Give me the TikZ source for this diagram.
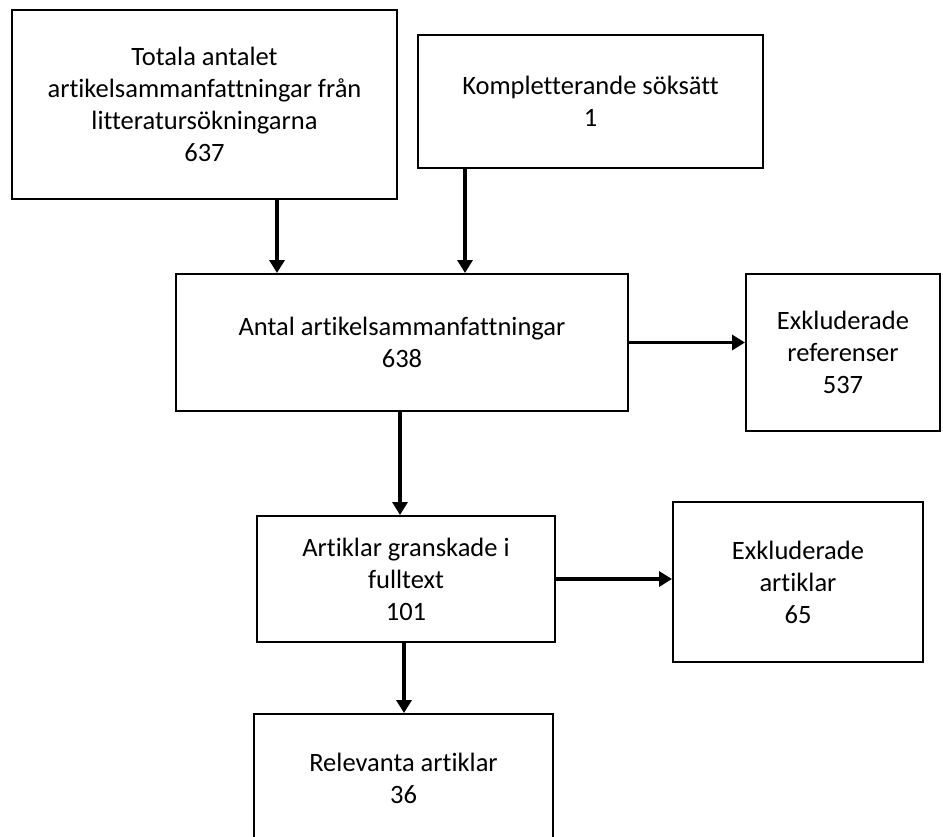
\documentclass[tikz,border=0pt]{standalone}
\usepackage{fontspec}
\setmainfont{Carlito}[Ligatures={NoCommon}]
\usetikzlibrary{arrows.meta}
\begin{document}
\begin{tikzpicture}[x=1pt,y=-1pt,
  box/.style={draw=black,line width=2pt,align=center,inner sep=0pt,
    font=\fontsize{26.5}{32}\selectfont,text=black},
  arr/.style={line width=3.5pt,-{Triangle[length=13pt,width=15pt]}}]
\useasboundingbox (0,0) rectangle (943,836);
\clip (0,0) rectangle (943,836);
\node[box,minimum width=385pt,minimum height=189pt] (b1) at (204.5,104.5)
  {Totala antalet\\artikelsammanfattningar från\\litteratursökningarna\\637};
\node[box,minimum width=345pt,minimum height=133pt] (b2) at (590.5,101.5)
  {Kompletterande söksätt\\1};
\node[box,minimum width=452pt,minimum height=137pt] (b3) at (402,342.5)
  {Antal artikelsammanfattningar\\638};
\node[box,minimum width=194pt,minimum height=157pt] (b4) at (843,352.5)
  {Exkluderade\\referenser\\537};
\node[box,minimum width=298pt,minimum height=126pt] (b5) at (406,579)
  {Artiklar granskade i\\fulltext\\101};
\node[box,minimum width=250pt,minimum height=160pt] (b6) at (798,582)
  {Exkluderade\\artiklar\\65};
\node[box,minimum width=299pt,minimum height=128pt] (b7) at (403.5,778)
  {Relevanta artiklar\\36};
\coordinate (x1) at (277,0);
\coordinate (x2) at (465,0);
\coordinate (x3) at (400,0);
\coordinate (x4) at (404,0);
\draw[arr] (b1.south -| x1) -- (b3.north -| x1);
\draw[arr] (b2.south -| x2) -- (b3.north -| x2);
\draw[arr] (b3.east) -- (b3.east -| b4.west);
\draw[arr] (b3.south -| x3) -- (b5.north -| x3);
\draw[arr] (b5.east) -- (b5.east -| b6.west);
\draw[arr] (b5.south -| x4) -- (b7.north -| x4);
\end{tikzpicture}
\end{document}
